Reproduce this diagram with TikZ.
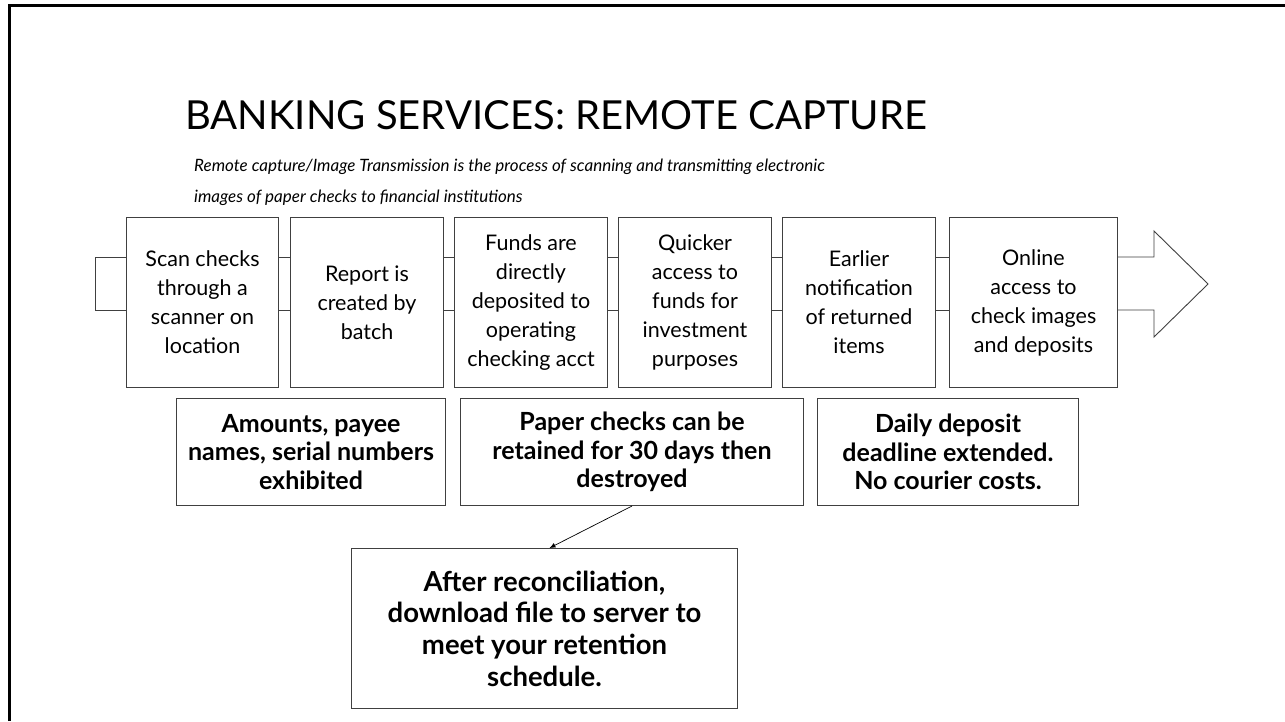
\documentclass[tikz,border=0pt]{standalone}
\usepackage{fontspec}
\setmainfont{Lato}
\usetikzlibrary{arrows.meta}
\tikzset{
  stepbox/.style={draw=black!75, line width=1pt, anchor=north west, align=center,
    inner sep=0pt, font=\fontsize{21.5}{29}\selectfont, minimum height=170pt},
  notebox/.style={draw=black!75, line width=1pt, anchor=north west, align=center,
    inner sep=0pt, font=\bfseries\fontsize{25}{28.5}\selectfont},
  link/.style={draw=black!75, line width=0.9pt},
  frameline/.style={line width=3pt, black},
}
\begin{document}
\begin{tikzpicture}[x=1pt, y=-1pt]
\useasboundingbox (0,0) rectangle (1285,721);
\fill[white] (0,0) rectangle (1285,721);
% frame
\draw[frameline] (9.5,721) -- (9.5,5.5) -- (1285,5.5);
% title
\node[anchor=base west, inner sep=0pt, font=\fontsize{40}{44}\selectfont] (title) at (185,129) {BANKING SERVICES: REMOTE CAPTURE};
\node[anchor=base west, inner sep=0pt, align=left, font=\itshape\fontsize{17}{31}\selectfont] (sub) at (194,202)
  {Remote capture/Image Transmission is the process of scanning and transmitting electronic\\images of paper checks to financial institutions};
% step boxes
\node[stepbox, minimum width=152pt] (b1) at (126,217) {Scan checks\\through a\\scanner on\\location};
\node[stepbox, minimum width=153pt] (b2) at (290,217) {Report is\\created by\\batch};
\node[stepbox, minimum width=153pt] (b3) at (454,217) {Funds are\\directly\\deposited to\\operating\\checking acct};
\node[stepbox, minimum width=153pt] (b4) at (618,217) {Quicker\\access to\\funds for\\investment\\purposes};
\node[stepbox, minimum width=153pt] (b5) at (782,217) {Earlier\\notification\\of returned\\items};
\node[stepbox, minimum width=168pt] (b6) at (949,217) {Online\\access to\\check images\\and deposits};
% process band
\draw[link] ([yshift=-40pt]b1.north west) -- ++(-31,0) -- ++(0,53) -- ([yshift=-93pt]b1.north west);
\foreach \a/\b in {b1/b2,b2/b3,b3/b4,b4/b5,b5/b6}{
  \draw[link] ([yshift=-40pt]\a.north east) -- ([yshift=-40pt]\b.north west);
  \draw[link] ([yshift=-93pt]\a.north east) -- ([yshift=-93pt]\b.north west);
}
\coordinate (tip) at (1208,284);
\draw[link, line join=miter] ([yshift=-40pt]b6.north east) -- (1154,257) -- (1154,231) -- (tip) -- (1154,337) -- (1154,310) -- ([yshift=-93pt]b6.north east);
% note boxes
\node[notebox, minimum width=269pt, minimum height=107pt] (n1) at (176,398) {Amounts, payee\\names, serial numbers\\exhibited};
\node[notebox, minimum width=343pt, minimum height=107pt] (n2) at (460,398) {Paper checks can be\\retained for 30 days then\\destroyed};
\node[notebox, minimum width=261pt, minimum height=107pt] (n3) at (817,398) {Daily deposit\\deadline extended.\\No courier costs.};
\node[notebox, minimum width=386pt, minimum height=160pt, font=\bfseries\fontsize{27.5}{31.7}\selectfont] (n4) at (351,548) {After reconciliation,\\download file to server to\\meet your retention\\schedule.};
\draw[black, line width=0.7pt, -{Latex[length=6pt,width=5pt]}] (n2.south) -- ([xshift=5pt]n4.north);
\end{tikzpicture}
\end{document}
